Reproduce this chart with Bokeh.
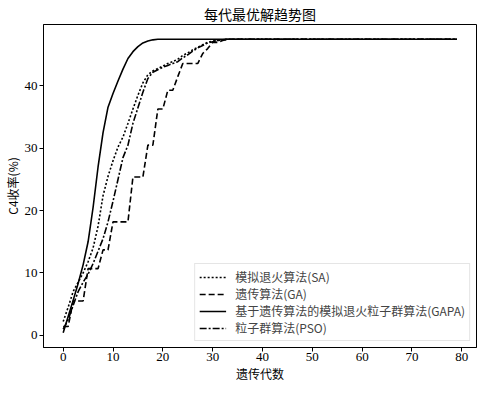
from bokeh.plotting import figure
from bokeh.models import Range1d, FixedTicker, Legend, LegendItem
from bokeh.embed import file_html
from bokeh.resources import INLINE

generations = list(range(80))

sa = [2.2, 4.5, 7.0, 8.5, 10.0, 11.8, 14.0, 17.5, 22.4, 25.5,
      28.0, 30.2, 31.8, 34.0, 36.3, 38.5, 40.5, 41.8, 42.4, 42.8,
      43.2, 43.6, 43.9, 44.3, 44.9, 45.3, 45.8, 46.2, 46.6, 47.0,
      47.2, 47.3, 47.4] + [47.5] * 47

ga = [1.4, 1.4, 5.5, 5.5, 5.5, 10.7, 10.7, 10.7, 13.7, 13.7,
      18.2, 18.2, 18.2, 18.2, 25.4, 25.4, 25.4, 30.5, 30.5, 36.3,
      36.3, 39.3, 39.3, 41.5, 43.6, 43.6, 43.6, 43.6, 45.2, 46.0,
      47.0, 47.0, 47.3] + [47.5] * 47

gapa = [0.4, 3.0, 5.6, 8.3, 11.3, 15.0, 20.5, 27.0, 32.5, 36.6,
        38.8, 40.8, 42.7, 44.4, 45.5, 46.3, 46.9, 47.2, 47.4] + [47.5] * 61

pso = [1.0, 2.5, 4.8, 7.0, 8.5, 9.8, 11.5, 13.5, 15.5, 18.2,
       21.5, 25.0, 28.5, 30.5, 34.0, 36.5, 39.0, 41.2, 42.2, 42.6,
       43.0, 43.3, 43.6, 43.9, 44.5, 45.0, 45.6, 46.1, 46.5, 46.9,
       47.1, 47.3, 47.4] + [47.5] * 47

labels = ["模拟退火算法(SA)", "遗传算法(GA)",
          "基于遗传算法的模拟退火粒子群算法(GAPA)", "粒子群算法(PSO)"]
x_ticks = [0, 10, 20, 30, 40, 50, 60, 70, 80]
y_ticks = [0, 10, 20, 30, 40]
title_text = "每代最优解趋势图"
x_label = "遗传代数"
y_label = "C4收率(%)"

CJK = "Noto Sans CJK SC"
NUM = "Liberation Serif"

p = figure(width=480, height=384, output_backend="svg", toolbar_location=None,
           title=title_text,
           x_range=Range1d(-3.95, 82.95), y_range=Range1d(-1.96, 49.86),
           min_border_left=30, min_border_right=4, min_border_top=14,
           min_border_bottom=30)

p.title.align = "center"
p.title.text_font = CJK
p.title.text_font_size = "14px"
p.title.text_font_style = "normal"
p.title.text_color = "black"
p.title.standoff = 2

p.xgrid.visible = False
p.ygrid.visible = False
p.outline_line_color = "black"
p.outline_line_width = 1

for ax in (p.xaxis[0], p.yaxis[0]):
    ax.major_tick_out = 4
    ax.major_tick_in = 0
    ax.minor_tick_out = 0
    ax.minor_tick_in = 0
    ax.axis_line_color = "black"
    ax.major_tick_line_color = "black"
    ax.major_label_text_font = NUM
    ax.major_label_text_font_size = "13px"
    ax.major_label_text_color = "black"
    ax.major_label_standoff = 2
    ax.axis_label_text_font = CJK
    ax.axis_label_text_font_size = "12px"
    ax.axis_label_text_font_style = "normal"
    ax.axis_label_text_color = "black"
    ax.axis_label_standoff = 1

p.xaxis[0].ticker = FixedTicker(ticks=x_ticks)
p.yaxis[0].ticker = FixedTicker(ticks=y_ticks)
p.xaxis[0].axis_label = x_label
p.yaxis[0].axis_label = y_label
p.xaxis[0].major_label_standoff = 1

r_sa = p.line(generations, sa, line_color="black", line_width=1.6, line_dash="2 2")
r_ga = p.line(generations, ga, line_color="black", line_width=1.6, line_dash="6 3")
r_gapa = p.line(generations, gapa, line_color="black", line_width=1.6)
r_pso = p.line(generations, pso, line_color="black", line_width=1.6, line_dash="7 2 2 2")

legend = Legend(items=[LegendItem(label=labels[0], renderers=[r_sa]),
                       LegendItem(label=labels[1], renderers=[r_ga]),
                       LegendItem(label=labels[2], renderers=[r_gapa]),
                       LegendItem(label=labels[3], renderers=[r_pso])],
                location="bottom_right")
legend.label_text_font = CJK
legend.label_text_font_size = "12px"
legend.label_height = 14
legend.glyph_height = 14
legend.glyph_width = 27
legend.label_standoff = 9
legend.spacing = 0
legend.padding = 4
legend.margin = 6
legend.border_line_color = "#cccccc"
legend.border_line_width = 1
legend.background_fill_alpha = 0.85
p.add_layout(legend)

open("out.html", "w").write(file_html(p, INLINE))
